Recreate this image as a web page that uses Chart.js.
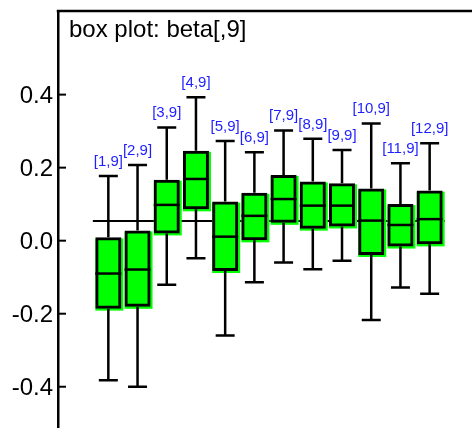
<!DOCTYPE html>
<html>
<head>
<meta charset="utf-8">
<script src="https://cdn.jsdelivr.net/npm/chart.js@4.4.0/dist/chart.umd.min.js"></script>
<style>
  html, body { margin: 0; padding: 0; background: #fff; }
  #wrap { width: 472px; height: 428px; }
</style>
</head>
<body>
<div id="wrap"><canvas id="chart"></canvas></div>
<script>
const chartTitle = 'box plot: beta[,9]';
const boxLabels = ['[1,9]', '[2,9]', '[3,9]', '[4,9]', '[5,9]', '[6,9]', '[7,9]', '[8,9]', '[9,9]', '[10,9]', '[11,9]', '[12,9]'];
const boxPositions = [1, 2, 3, 4, 5, 6, 7, 8, 9, 10, 11, 12];
const whiskerLow = [-0.382, -0.400, -0.121, -0.048, -0.260, -0.114, -0.060, -0.078, -0.055, -0.217, -0.128, -0.145];
const quartile1 = [-0.182, -0.177, 0.024, 0.090, -0.079, 0.005, 0.053, 0.037, 0.043, -0.035, -0.012, -0.006];
const medians = [-0.090, -0.079, 0.098, 0.169, 0.011, 0.068, 0.114, 0.096, 0.096, 0.055, 0.043, 0.059];
const quartile3 = [0.005, 0.024, 0.163, 0.242, 0.103, 0.127, 0.176, 0.158, 0.153, 0.139, 0.096, 0.133];
const whiskerHigh = [0.177, 0.207, 0.310, 0.393, 0.273, 0.242, 0.302, 0.279, 0.248, 0.321, 0.212, 0.267];
const refValue = 0.054;
const refRange = [0.47, 12.52];
const yTicks = [-0.4, -0.2, 0.0, 0.2, 0.4];

const FONT = "'Liberation Sans', Arial, Helvetica, sans-serif";

// whiskers, caps and the green shadow go under the boxes
const boxPlugin = {
    id: 'boxExtras',
    beforeDatasetDraw(chart, args) {
        if (args.index !== 0) return;
        const ctx = chart.ctx;
        const xs = chart.scales.x, ys = chart.scales.y;
        const meta = chart.getDatasetMeta(0);
        ctx.save();
        meta.data.forEach((bar, i) => {
            const x = xs.getPixelForValue(boxPositions[i]);
            const half = bar.width / 2 + 1.5;
            const top = ys.getPixelForValue(quartile3[i]) - 1.5;
            const bottom = ys.getPixelForValue(quartile1[i]) + 1.5;
            ctx.fillStyle = '#00ff00';
            ctx.fillRect(x - half, top + 1, half * 2 + 2, bottom - top + 1);

            ctx.strokeStyle = '#000';
            ctx.lineWidth = 2.5;
            const yHi = ys.getPixelForValue(whiskerHigh[i]);
            const yLo = ys.getPixelForValue(whiskerLow[i]);
            ctx.beginPath();
            ctx.moveTo(x, top); ctx.lineTo(x, yHi);
            ctx.moveTo(x, bottom); ctx.lineTo(x, yLo);
            ctx.moveTo(x - 9.5, yHi); ctx.lineTo(x + 9.5, yHi);
            ctx.moveTo(x - 9.5, yLo); ctx.lineTo(x + 9.5, yLo);
            ctx.stroke();
        });
        ctx.restore();
    },
    afterDatasetsDraw(chart) {
        const ctx = chart.ctx;
        const xs = chart.scales.x, ys = chart.scales.y;
        const meta = chart.getDatasetMeta(0);
        const area = chart.chartArea;
        ctx.save();
        // medians
        ctx.strokeStyle = '#000';
        ctx.lineWidth = 2.5;
        meta.data.forEach((bar, i) => {
            const x = xs.getPixelForValue(boxPositions[i]);
            const half = bar.width / 2 + 1.5;
            const y = ys.getPixelForValue(medians[i]);
            ctx.beginPath();
            ctx.moveTo(x - half, y); ctx.lineTo(x + half, y);
            ctx.stroke();
        });
        // node labels
        ctx.fillStyle = '#1e1eff';
        ctx.font = '15px ' + FONT;
        ctx.textAlign = 'center';
        ctx.textBaseline = 'alphabetic';
        boxLabels.forEach((lab, i) => {
            const x = xs.getPixelForValue(boxPositions[i]);
            const y = ys.getPixelForValue(whiskerHigh[i]) - 10;
            ctx.fillText(lab, x, y);
        });
        // top frame line
        ctx.lineWidth = 2.5;
        ctx.beginPath();
        ctx.moveTo(area.left - 1.25, area.top);
        ctx.lineTo(area.right, area.top);
        ctx.stroke();
        // inward tick marks
        ctx.lineWidth = 2;
        yTicks.forEach(v => {
            const y = ys.getPixelForValue(v);
            ctx.beginPath();
            ctx.moveTo(area.left, y); ctx.lineTo(area.left + 8, y);
            ctx.stroke();
        });
        // title
        ctx.fillStyle = '#000';
        ctx.font = '24px ' + FONT;
        ctx.textAlign = 'left';
        ctx.fillText(chartTitle, area.left + 11, area.top + 26);
        ctx.restore();
    }
};

const ctx = document.getElementById('chart').getContext('2d');
new Chart(ctx, {
    type: 'bar',
    data: {
        datasets: [
            {
                type: 'bar',
                data: boxPositions.map((x, i) => ({ x: x, y: [quartile1[i], quartile3[i]] })),
                backgroundColor: '#00ff00',
                borderColor: '#000',
                borderWidth: 3,
                borderSkipped: false,
                barThickness: 23,
                inflateAmount: 1.5,
                order: 1
            },
            {
                type: 'line',
                data: [{ x: refRange[0], y: refValue }, { x: refRange[1], y: refValue }],
                borderColor: '#000',
                borderWidth: 2,
                pointRadius: 0,
                order: 2
            }
        ]
    },
    options: {
        responsive: true,
        maintainAspectRatio: false,
        animation: false,
        layout: { padding: { top: 11, left: 0, right: 0, bottom: 0 } },
        plugins: {
            legend: { display: false },
            tooltip: { enabled: false }
        },
        scales: {
            x: { type: 'linear', display: false, offset: false, min: -0.723, max: 13.45 },
            y: {
                min: -0.513,
                max: 0.629,
                grid: { display: false, drawTicks: false },
                border: { display: true, color: '#000', width: 2.5 },
                ticks: {
                    color: '#000',
                    font: { family: FONT, size: 24 },
                    padding: 5,
                    labelOffset: 2,
                    callback: v => v.toFixed(1)
                },
                afterBuildTicks: scale => {
                    scale.ticks = yTicks.map(v => ({ value: v }));
                },
                afterFit: scale => {
                    scale.width = 58;
                    scale.paddingTop = 0;
                    scale.paddingBottom = 0;
                }
            }
        }
    },
    plugins: [boxPlugin]
});
</script>
</body>
</html>
